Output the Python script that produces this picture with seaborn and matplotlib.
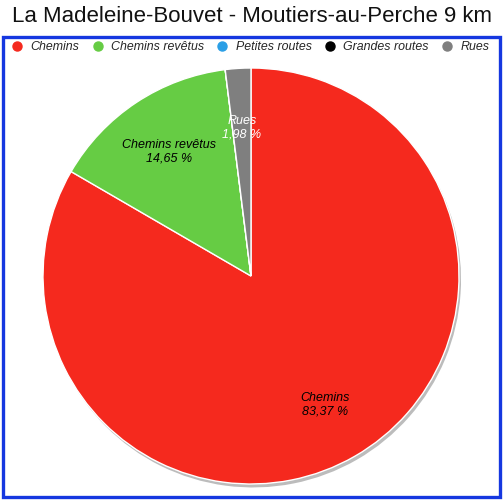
import matplotlib
matplotlib.use("Agg")
import matplotlib.pyplot as plt
import matplotlib.patches as mpatches
from matplotlib.lines import Line2D
import seaborn as sns

categories = ["Chemins", "Chemins revêtus", "Petites routes", "Grandes routes", "Rues"]
values = [83.37, 14.65, 0.0, 0.0, 1.98]
value_labels = ["83,37 %", "14,65 %", "", "", "1,98 %"]
colors = ["#F5291E", "#66CC44", "#2B9FE6", "#000000", "#7F7F7F"]
label_colors = ["black", "black", "black", "black", "white"]
title = "La Madeleine-Bouvet - Moutiers-au-Perche 9 km"

sns.set_theme(style="white")
plt.rcParams["font.family"] = ["Liberation Sans", "DejaVu Sans"]

W, H = 503, 500
fig = plt.figure(figsize=(W / 100, H / 100), dpi=100)
fig.patch.set_facecolor("white")

# blue frame
fig.patches.append(mpatches.Rectangle((2.5 / W, 3.5 / H), 497 / W, 460 / H,
                                      transform=fig.transFigure, fill=False,
                                      edgecolor="#1537E0", linewidth=2.4))

fig.text(0.5, 1 - 17 / H, title, ha="center", va="center", fontsize=16, color="#111111")

cx, cy, r = 251, 276, 208
lim = 1.02
size = 2 * r * lim
ax = fig.add_axes([(cx - r * lim) / W, (H - cy - r * lim) / H, size / W, size / H])

labels = [f"{c}\n{v}" if v else "" for c, v in zip(categories, value_labels)]
wedges, texts = ax.pie(values, labels=labels, colors=colors, startangle=90,
                       counterclock=False, labeldistance=0.715,
                       wedgeprops=dict(edgecolor="white", linewidth=1.0),
                       shadow=dict(ox=0.007, oy=-0.012, shade=0.0),
                       textprops=dict(fontsize=9, style="italic"))
for p in ax.patches:
    if isinstance(p, mpatches.Shadow):
        p.set_facecolor("#909090")
        p.set_edgecolor("none")
        p.set_alpha(0.6)
for t, c in zip(texts, label_colors):
    t.set_ha("center")
    t.set_va("center")
    t.set_color(c)
ax.set_xlim(-lim, lim)
ax.set_ylim(-lim, lim)
ax.set_aspect("equal")
ax.axis("off")

handles = [Line2D([0], [0], marker="o", linestyle="none", markersize=6.5,
                  markerfacecolor=c, markeredgecolor=c) for c in colors]
leg = fig.legend(handles, categories, loc="center", bbox_to_anchor=(0.496, 1 - 47 / H),
                 ncol=5, frameon=False, handletextpad=0.5, columnspacing=0.85,
                 handlelength=1.2, prop=dict(size=8.9, style="italic"))

fig.savefig("out.png", dpi=100)
